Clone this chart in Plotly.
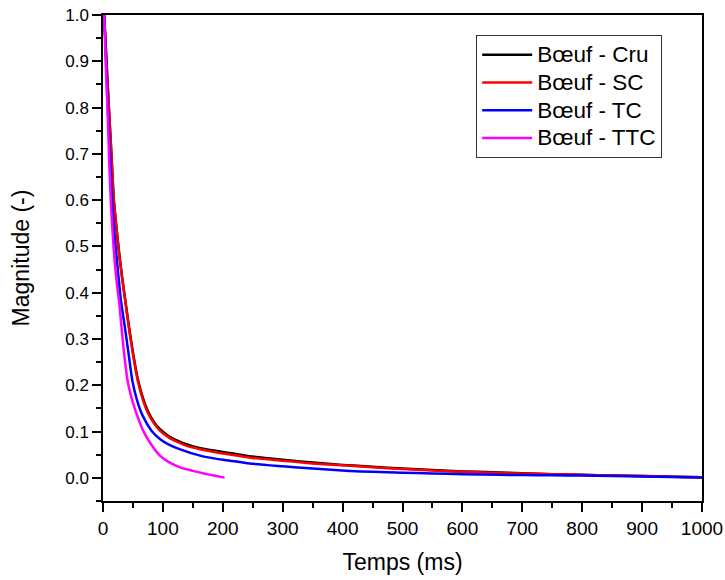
import plotly.graph_objects as go

# Temps (ms) / Magnitude (-)
x_cru = [2, 6, 10, 14, 18, 22, 27, 32, 37, 43, 50, 58, 67, 75, 85, 95, 110, 125, 140, 162, 190, 220, 250, 300, 350, 400, 450, 500, 550, 600, 650, 700, 750, 800, 850, 900, 950, 1000]
y_cru = [1.0, 0.895, 0.795, 0.70, 0.602, 0.547, 0.486, 0.433, 0.386, 0.33, 0.271, 0.214, 0.171, 0.144, 0.121, 0.105, 0.090, 0.080, 0.072, 0.064, 0.058, 0.052, 0.046, 0.039, 0.033, 0.028, 0.024, 0.020, 0.017, 0.014, 0.012, 0.010, 0.008, 0.0065, 0.005, 0.004, 0.0025, 0.0012]

x_sc = [2, 6, 10, 14, 18, 22, 27, 32, 37, 43, 50, 58, 67, 75, 85, 95, 110, 125, 140, 162, 190, 220, 250, 300, 350, 400, 450, 500, 550, 600, 650, 700, 750, 800, 850, 900, 950, 1000]
y_sc = [1.0, 0.895, 0.795, 0.70, 0.60, 0.545, 0.483, 0.43, 0.383, 0.326, 0.267, 0.21, 0.167, 0.14, 0.118, 0.102, 0.087, 0.077, 0.069, 0.062, 0.055, 0.049, 0.043, 0.037, 0.031, 0.027, 0.023, 0.019, 0.016, 0.013, 0.011, 0.0095, 0.0078, 0.0063, 0.005, 0.0038, 0.0025, 0.0012]

x_tc = [2, 5, 8, 12, 15, 19, 24, 30, 36, 42, 49, 57, 66, 81, 95, 110, 130, 162, 190, 212, 245, 300, 350, 412, 450, 500, 550, 600, 662, 700, 750, 800, 850, 900, 950, 1000]
y_tc = [1.0, 0.90, 0.80, 0.69, 0.60, 0.53, 0.46, 0.383, 0.33, 0.275, 0.21, 0.167, 0.135, 0.102, 0.084, 0.072, 0.061, 0.048, 0.041, 0.037, 0.031, 0.025, 0.020, 0.015, 0.013, 0.011, 0.0095, 0.008, 0.0066, 0.006, 0.0055, 0.005, 0.004, 0.0032, 0.002, 0.0008]

x_ttc = [2, 5, 8, 11, 13, 16, 20, 24, 27, 32, 36, 41, 49, 57, 67, 80, 95, 110, 130, 150, 170, 185, 203]
y_ttc = [1.0, 0.88, 0.78, 0.66, 0.60, 0.53, 0.46, 0.41, 0.38, 0.31, 0.26, 0.21, 0.167, 0.135, 0.102, 0.073, 0.048, 0.034, 0.022, 0.015, 0.009, 0.005, 0.0005]

series_names = ["Bœuf - Cru", "Bœuf - SC", "Bœuf - TC", "Bœuf - TTC"]
series_x = [x_cru, x_sc, x_tc, x_ttc]
series_y = [y_cru, y_sc, y_tc, y_ttc]
series_colors = ["#000000", "#FF0000", "#0000FF", "#FF00FF"]

x_ticks = [0, 100, 200, 300, 400, 500, 600, 700, 800, 900, 1000]
y_ticks = [0.0, 0.1, 0.2, 0.3, 0.4, 0.5, 0.6, 0.7, 0.8, 0.9, 1.0]

fig = go.Figure()
for name, xs, ys, col in zip(series_names, series_x, series_y, series_colors):
    fig.add_trace(go.Scatter(x=xs, y=ys, mode="lines",
                             name='<span style="font-size:22.5px">' + name + '</span>',
                             line=dict(color=col, width=2.5, shape="spline", smoothing=0.6)))

font_family = "Liberation Sans, Arial, sans-serif"
fig.update_layout(
    width=725, height=580,
    margin=dict(l=103, r=23, t=15, b=79, autoexpand=False),
    paper_bgcolor="white", plot_bgcolor="white",
    font=dict(family=font_family, color="#000000", size=17),
    showlegend=True,
    legend=dict(x=0.623, y=0.959, xanchor="left", yanchor="top",
                bgcolor="white", bordercolor="#333333", borderwidth=1,
                font=dict(size=19, family=font_family), tracegroupgap=0,
                itemwidth=50),
)
fig.update_xaxes(range=[0, 1000], tickvals=x_ticks, ticks="outside", ticklen=9, tickwidth=1.5,
                 tickcolor="black", showline=True, linecolor="black", linewidth=1.5, mirror=True,
                 showgrid=False, zeroline=False, tickfont=dict(size=19), automargin=False,
                 minor=dict(tickvals=[50, 150, 250, 350, 450, 550, 650, 750, 850, 950],
                            ticks="outside", ticklen=5, tickwidth=1.5, tickcolor="black"),
                 title=dict(text="Temps (ms)", font=dict(size=23), standoff=16))
fig.update_yaxes(range=[-0.05, 1.0], tickvals=y_ticks, tickformat=".1f", ticks="outside", ticklen=9,
                 tickwidth=1.5, tickcolor="black", showline=True, linecolor="black", linewidth=1.5,
                 mirror=True, showgrid=False, zeroline=False, tickfont=dict(size=17), automargin=False,
                 minor=dict(tickvals=[-0.05, 0.05, 0.15, 0.25, 0.35, 0.45, 0.55, 0.65, 0.75, 0.85, 0.95],
                            ticks="outside", ticklen=5, tickwidth=1.5, tickcolor="black"),
                 title=dict(text="Magnitude (-)", font=dict(size=23), standoff=29))

fig.write_html("out.html", config={"displayModeBar": False},
               post_script="document.body.style.margin='0px';document.documentElement.style.overflow='hidden';")
